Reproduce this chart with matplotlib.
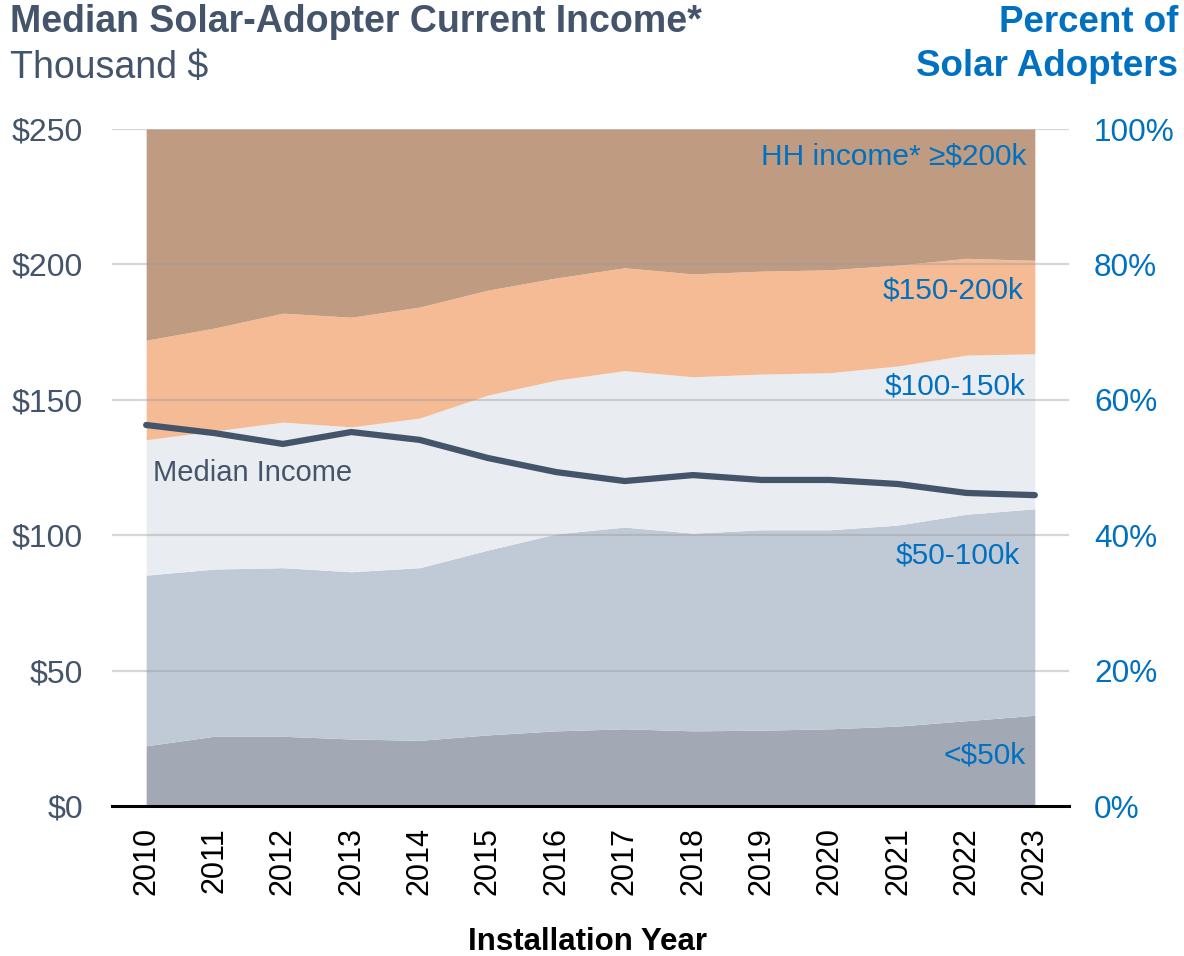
import matplotlib
matplotlib.use("Agg")
import matplotlib.pyplot as plt
import numpy as np

years = list(range(2010, 2024))
# cumulative boundaries (percent of solar adopters)
pct_lt50 = [8.9, 10.3, 10.3, 9.9, 9.7, 10.5, 11.1, 11.4, 11.1, 11.2, 11.4, 11.8, 12.6, 13.4]
cum_50_100 = [34.1, 35.0, 35.2, 34.6, 35.2, 37.8, 40.2, 41.2, 40.3, 40.8, 40.8, 41.5, 43.1, 43.9]
cum_100_150 = [54.1, 55.4, 56.7, 56.0, 57.3, 60.7, 62.9, 64.3, 63.4, 63.8, 64.0, 65.0, 66.6, 66.8]
cum_150_200 = [68.8, 70.6, 72.8, 72.2, 73.7, 76.2, 78.0, 79.5, 78.6, 79.0, 79.2, 79.9, 80.9, 80.6]
cum_top = [100.0] * 14
median_income = [140.7, 137.7, 133.7, 138.1, 135.2, 128.5, 123.3, 120.0, 122.2, 120.4, 120.4, 118.9, 115.6, 114.8]

band_labels = ["<$50k", "$50-100k", "$100-150k", "$150-200k", "HH income* \u2265$200k"]
band_colors = ["#a2a9b4", "#c0cad6", "#e9ecf1", "#f5bb95", "#bf9b82"]
left_ticks = [0, 50, 100, 150, 200, 250]
left_ticklabels = ["$0", "$50", "$100", "$150", "$200", "$250"]
right_ticks = [0, 20, 40, 60, 80, 100]
right_ticklabels = ["0%", "20%", "40%", "60%", "80%", "100%"]

plt.rcParams['font.family'] = ['Liberation Sans', 'DejaVu Sans']

fig = plt.figure(figsize=(11.84, 9.56), dpi=100)
axl = fig.add_axes([112/1184, 1-806/956, (1069-112)/1184, (806-129)/956])
axr = axl.twinx()

# areas on right (percent) axis
bounds = [np.zeros(14), np.array(pct_lt50), np.array(cum_50_100), np.array(cum_100_150),
          np.array(cum_150_200), np.array(cum_top)]
for i in range(5):
    axr.fill_between(years, bounds[i], bounds[i+1], color=band_colors[i], linewidth=0, zorder=1)
axr.set_ylim(0, 100)

# left axis on top
axl.set_zorder(axr.get_zorder() + 1)
axl.patch.set_visible(False)
axl.set_ylim(0, 250)
axl.set_xlim(2009.5, 2023.5)
axl.plot(years, median_income, color="#44546a", linewidth=4.5, solid_capstyle='round', zorder=5)
for t in left_ticks[1:]:
    axl.axhline(t, color="#9a9a9a", alpha=0.4, linewidth=1.6, zorder=2)

axl.set_yticks(left_ticks)
axl.set_yticklabels(left_ticklabels)
axr.set_yticks(right_ticks)
axr.set_yticklabels(right_ticklabels)
axl.set_xticks(years)
axl.set_xticklabels([str(y) for y in years], rotation=90)

axl.tick_params(axis='y', length=0, pad=21, labelsize=23, labelcolor="#44546a")
axr.tick_params(axis='y', length=0, pad=18, labelsize=22.7, labelcolor="#0070c0")
axl.tick_params(axis='x', length=0, pad=15, labelsize=22, labelcolor="black")

for ax in (axl, axr):
    for s in ['top', 'left', 'right']:
        ax.spines[s].set_visible(False)
axr.spines['bottom'].set_visible(False)
axl.spines['bottom'].set_linewidth(2.2)
axl.spines['bottom'].set_color('black')
axl.spines['bottom'].set_zorder(6)

# band labels
blue = "#0070c0"
lab_pos = [(2022.87, 7.5), (2022.78, 37.0), (2022.86, 62.0), (2022.83, 76.1), (2022.88, 95.9)]
for (x, y), lab in zip(lab_pos, band_labels):
    axr.text(x, y, lab, ha='right', va='center', fontsize=21.5, color=blue, zorder=4)

axl.text(2010.1, 122.9, "Median Income", ha='left', va='center', fontsize=21, color="#44546a", zorder=6)

fig.text(10/1184, 1-22/956, "Median Solar-Adopter Current Income*", ha='left', va='center',
         fontsize=27, fontweight='bold', color="#44546a")
fig.text(10/1184, 1-68/956, "Thousand $", ha='left', va='center', fontsize=27, color="#44546a")
fig.text(1178/1184, 1-22/956, "Percent of", ha='right', va='center', fontsize=26.5,
         fontweight='bold', color=blue)
fig.text(1178/1184, 1-67/956, "Solar Adopters", ha='right', va='center', fontsize=26.5,
         fontweight='bold', color=blue)
fig.text(587/1184, 1-942/956, "Installation Year", ha='center', va='center', fontsize=22.5,
         fontweight='bold', color='black')

fig.savefig("out.png", dpi=100)
